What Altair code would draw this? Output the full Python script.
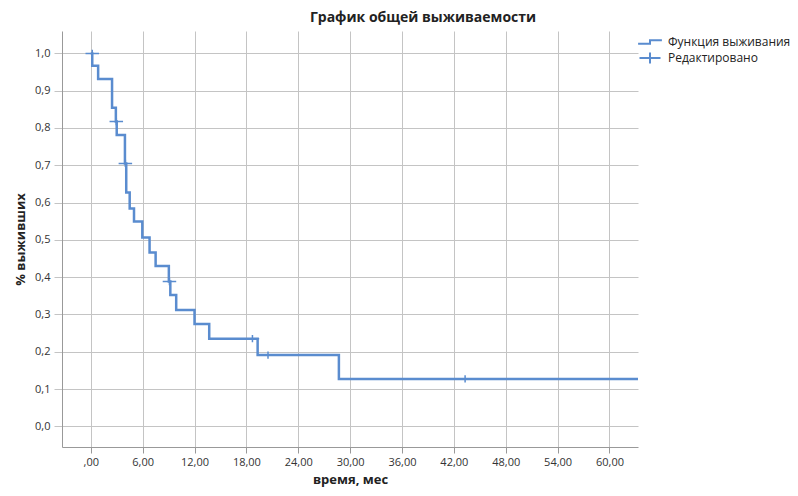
import altair as alt
import pandas as pd

# Kaplan-Meier step curve (time in months, survival proportion)
times = [0, 0.17, 0.85, 2.46, 2.9, 3.0, 3.95, 4.1, 4.5, 5.0, 5.96, 6.8, 7.5,
         9.03, 9.2, 9.88, 12.0, 13.7, 19.3, 28.7, 63.3]
surv = [1.0, 0.967, 0.931, 0.854, 0.817, 0.781, 0.705, 0.627, 0.584, 0.549,
        0.506, 0.466, 0.43, 0.388, 0.352, 0.312, 0.274, 0.235, 0.191, 0.127, 0.127]

# censored observations
cens_t = [0.17, 2.95, 4.0, 9.1, 18.7, 20.5, 43.3]
cens_s = [1.0, 0.817, 0.705, 0.388, 0.235, 0.191, 0.127]

x_ticks = [0, 6, 12, 18, 24, 30, 36, 42, 48, 54, 60]
y_ticks = [0.0, 0.1, 0.2, 0.3, 0.4, 0.5, 0.6, 0.7, 0.8, 0.9, 1.0]

series_names = ["Функция выживания", "Редактировано"]

BLUE = "#5a8ccf"
FONT = "Open Sans"

curve = pd.DataFrame({"t": times, "s": surv, "series": series_names[0]})
cens = pd.DataFrame({"t": cens_t, "s": cens_s, "series": series_names[1]})

xscale = alt.Scale(domain=[-3.33, 63.3], nice=False, zero=False)
yscale = alt.Scale(domain=[-0.0555, 1.06], nice=False, zero=False)

xaxis = alt.Axis(
    values=x_ticks,
    labelExpr="datum.value == 0 ? ',00' : replace(format(datum.value, '.2f'), '.', ',')",
    title="время, мес",
    titleFontSize=13, titleFontWeight="bold", titleColor="#222",
    titlePadding=6,
    labelFontSize=11, labelColor="#333", labelPadding=3,
    tickSize=6, tickColor="#999",
    grid=True, gridColor="#c4c4c4", domainColor="#999",
)
yaxis = alt.Axis(
    values=y_ticks,
    labelExpr="replace(format(datum.value, '.1f'), '.', ',')",
    title="% выживших",
    titleFontSize=13, titleFontWeight="bold", titleColor="#222",
    titlePadding=7,
    labelFontSize=11, labelColor="#333", labelPadding=4,
    tickSize=8, tickColor="#c4c4c4",
    grid=True, gridColor="#c4c4c4", domainColor="#999",
)

line = alt.Chart(curve).mark_line(
    interpolate="step-after", color=BLUE, strokeWidth=2.5, clip=True
).encode(
    x=alt.X("t:Q", scale=xscale, axis=xaxis),
    y=alt.Y("s:Q", scale=yscale, axis=yaxis),
)

step_path = "M-1.7,0.25L0,0.25L0,-0.25L1.7,-0.25"
cross_path = "M-1.5,0L1.5,0M0,-0.8L0,0.8"

ticks = alt.Chart(cens).mark_point(
    filled=False, color=BLUE, strokeWidth=1.5, size=81, opacity=1
).encode(
    x="t:Q",
    y="s:Q",
    shape=alt.Shape(
        "series:N",
        scale=alt.Scale(domain=series_names, range=[step_path, cross_path]),
        legend=alt.Legend(
            title=None, orient="none", legendX=580, legendY=3,
            labelFontSize=12, labelColor="#222", labelLimit=300,
            labelOffset=10, rowPadding=0,
            symbolSize=196, symbolStrokeColor=BLUE, symbolStrokeWidth=2,
            symbolOpacity=1,
        ),
    ),
)

chart = alt.layer(line, ticks).properties(
    width=576, height=416,
    title=alt.TitleParams(
        "График общей выживаемости", fontSize=14, fontWeight="bold",
        color="#222", anchor="middle", dx=73, offset=6, font=FONT,
    ),
    autosize=alt.AutoSizeParams(type="none"),
    padding={"left": 54, "top": 23, "right": 152, "bottom": 41},
).configure(font=FONT).configure_view(stroke=None)

chart.save("out.html", embed_options={"renderer": "svg", "actions": False})
